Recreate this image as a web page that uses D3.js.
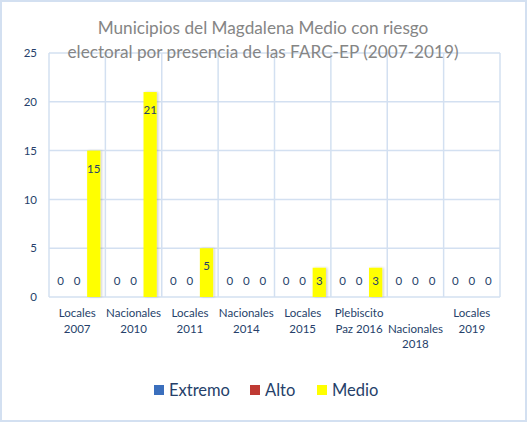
<!DOCTYPE html>
<html>
<head>
<meta charset="utf-8">
<script src="https://cdn.jsdelivr.net/npm/d3@7"></script>
<style>
  body { margin: 0; background: #fff; }
  svg text { font-family: Lato, "Noto Sans", sans-serif; }
</style>
</head>
<body>
<svg id="chart" width="527" height="422"></svg>
<script>
// categories, one array of text lines per election
var categories = ["Locales 2007", "Nacionales 2010", "Locales 2011", "Nacionales 2014",
                  "Locales 2015", "Plebiscito Paz 2016", "Nacionales 2018", "Locales 2019"]
var categoryLines = [["Locales", "2007"], ["Nacionales", "2010"], ["Locales", "2011"],
                     ["Nacionales", "2014"], ["Locales", "2015"], ["Plebiscito", "Paz 2016"],
                     ["", "Nacionales", "2018"], ["Locales", "2019"]]
var seriesNames = ["Extremo", "Alto", "Medio"]
var extremo = [0, 0, 0, 0, 0, 0, 0, 0]
var alto = [0, 0, 0, 0, 0, 0, 0, 0]
var medio = [15, 21, 5, 0, 3, 3, 0, 0]
var yTicks = [0, 5, 10, 15, 20, 25]
var titleLines = ["Municipios del Magdalena Medio con riesgo",
                  "electoral por presencia de las FARC-EP (2007-2019)"]

var seriesValues = [extremo, alto, medio]
var colors = ["#3b6fbd", "#bf3a33", "#ffff00"]
var gridColor = "#d3e0f1"
var textColor = "#263f6a"

var width = 527,
    height = 422,
    plotLeft = 49,
    plotRight = 500,
    plotTop = 53,
    plotBottom = 297

var svg = d3.select("#chart")

var defs = svg.append("defs")
var shadow = defs.append("filter").attr("id", "shadow")
    .attr("x", "-20%").attr("y", "-5%").attr("width", "160%").attr("height", "110%")
shadow.append("feDropShadow")
    .attr("dx", 1.5).attr("dy", 0).attr("stdDeviation", 1)
    .attr("flood-color", "#000").attr("flood-opacity", 0.18)

var x0 = d3.scaleBand()
    .domain(categories)
    .range([plotLeft, plotRight])
    .padding(0)

var x1 = d3.scaleBand()
    .domain(seriesNames)
    .range([0, x0.bandwidth()])
    .paddingInner(0.2)
    .paddingOuter(0.3)

var y = d3.scaleLinear()
    .domain([0, 25])
    .range([plotBottom, plotTop])

// horizontal grid lines
svg.append("g")
    .selectAll("line")
    .data(yTicks)
    .enter().append("line")
    .attr("x1", plotLeft)
    .attr("x2", plotRight)
    .attr("y1", function(d){ return y(d) })
    .attr("y2", function(d){ return y(d) })
    .style("stroke", gridColor)
    .style("stroke-width", 1.5)

// vertical separators between categories
var bounds = categories.map(function(c){ return x0(c) }).concat([plotRight])
svg.append("g")
    .selectAll("line")
    .data(bounds)
    .enter().append("line")
    .attr("x1", function(d){ return d })
    .attr("x2", function(d){ return d })
    .attr("y1", plotTop)
    .attr("y2", plotBottom)
    .style("stroke", gridColor)
    .style("stroke-width", 1.5)

// y axis labels
var yAxis = d3.axisLeft(y).tickValues(yTicks).tickSize(0).tickPadding(12)
var gy = svg.append("g")
    .attr("transform", "translate(" + plotLeft + ",0)")
    .call(yAxis)
gy.select(".domain").remove()
gy.selectAll("text")
    .style("font-family", "Lato, 'Noto Sans', sans-serif")
    .style("font-size", "11.5px")
    .style("fill", textColor)

// bars
var rows = []
categories.forEach(function(c, i){
    seriesNames.forEach(function(s, j){
        rows.push({cat: c, series: s, value: seriesValues[j][i], color: colors[j]})
    })
})

var groups = svg.append("g")
groups.selectAll("rect")
    .data(rows.filter(function(d){ return d.value > 0 }))
    .enter().append("rect")
    .attr("x", function(d){ return x0(d.cat) + x1(d.series) })
    .attr("y", function(d){ return y(d.value) })
    .attr("width", x1.bandwidth())
    .attr("height", function(d){ return y(0) - y(d.value) })
    .style("fill", function(d){ return d.color })
    .attr("filter", "url(#shadow)")

// value labels (inside end)
groups.selectAll("text")
    .data(rows)
    .enter().append("text")
    .attr("x", function(d){ return x0(d.cat) + x1(d.series) + x1.bandwidth() / 2 })
    .attr("y", function(d){ return Math.min(y(d.value) + 18, y(0) - 16) })
    .attr("dy", "0.35em")
    .attr("text-anchor", "middle")
    .style("font-size", "11.5px")
    .style("fill", textColor)
    .text(function(d){ return d.value })

// category labels
var xAxis = d3.axisBottom(x0).tickSize(0).tickPadding(0).tickFormat("")
var gx = svg.append("g")
    .attr("transform", "translate(0," + plotBottom + ")")
    .call(xAxis)
gx.select(".domain").remove()
gx.selectAll(".tick").each(function(d, i){
    var t = d3.select(this).append("text")
        .attr("text-anchor", "middle")
        .style("font-size", "11.5px")
        .style("fill", textColor)
    categoryLines[i].forEach(function(line, k){
        t.append("tspan")
            .attr("x", 0)
            .attr("y", 20 + k * 15.5)
            .text(line)
    })
})

// title
svg.append("text")
    .attr("text-anchor", "middle")
    .style("font-size", "17.2px")
    .style("fill", "#858585")
    .selectAll("tspan")
    .data(titleLines)
    .enter().append("tspan")
    .attr("x", 263)
    .attr("y", function(d, i){ return 34 + i * 24 })
    .text(function(d){ return d })

// legend
var legendX = [154, 250, 317]
var legend = svg.append("g")
    .selectAll("g")
    .data(seriesNames)
    .enter().append("g")
    .attr("transform", function(d, i){ return "translate(" + legendX[i] + ",385)" })
legend.append("rect")
    .attr("width", 10)
    .attr("height", 10)
    .style("fill", function(d, i){ return colors[i] })
legend.append("text")
    .attr("x", 15)
    .attr("y", 5)
    .attr("dy", "0.36em")
    .style("font-size", "16.5px")
    .style("fill", textColor)
    .text(function(d){ return d })

// outer frame
svg.append("rect")
    .attr("x", 1)
    .attr("y", 1)
    .attr("width", width - 2)
    .attr("height", height - 2)
    .style("fill", "none")
    .style("stroke", gridColor)
    .style("stroke-width", 2)
</script>
</body>
</html>
